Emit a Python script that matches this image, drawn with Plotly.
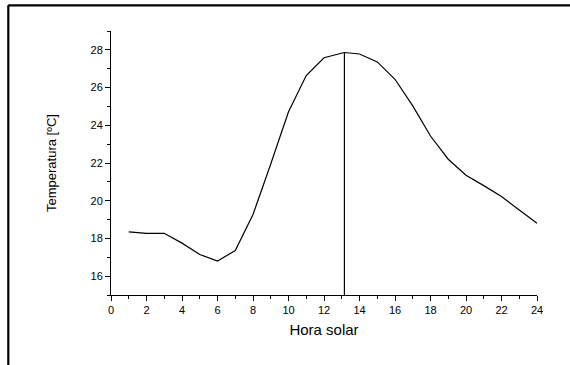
import plotly.graph_objects as go

hours = [1, 2, 3, 4, 5, 6, 7, 8, 9, 10, 11, 12, 13.15, 14, 15, 16, 17, 18, 19, 20, 21, 22, 23, 24]
temps = [18.35, 18.27, 18.27, 17.75, 17.15, 16.8, 17.36, 19.27, 21.95, 24.72, 26.64, 27.58, 27.86,
         27.78, 27.36, 26.44, 25.03, 23.43, 22.2, 21.35, 20.8, 20.22, 19.51, 18.8]
peak_hour = 13.15
peak_temp = 27.86
y_floor = 15

fig = go.Figure()
fig.add_trace(go.Scatter(x=hours, y=temps, mode="lines",
                         line=dict(color="black", width=1.2), showlegend=False))
fig.add_trace(go.Scatter(x=[peak_hour, peak_hour], y=[y_floor, peak_temp], mode="lines",
                         line=dict(color="black", width=1.2), showlegend=False))

W, H = 570, 365
L, R, T, B = 110.7, 33.3, 30.7, 70
pw, ph = W - L - R, H - T - B

def px(x):
    return (x - L) / pw

def py(y):
    return (H - B - y) / ph

fig.add_shape(type="line", xref="paper", yref="paper", x0=px(8), x1=px(600), y0=py(5), y1=py(5),
              line=dict(color="black", width=2.2))
fig.add_shape(type="line", xref="paper", yref="paper", x0=px(8), x1=px(8), y0=py(5), y1=py(400),
              line=dict(color="black", width=2.2))

axis_common = dict(showgrid=False, zeroline=False, showline=True, linecolor="black", linewidth=1,
                   ticks="outside", tickcolor="black", ticklen=5, tickwidth=1,
                   tickfont=dict(family="Liberation Sans, Arial", size=11, color="black"))

fig.update_xaxes(range=[0, 24], dtick=2, tick0=0,
                 minor=dict(dtick=1, ticks="outside", ticklen=3, tickcolor="black"),
                 title=dict(text="Hora solar", font=dict(family="Liberation Sans, Arial", size=15, color="black"),
                            standoff=9),
                 **axis_common)
fig.update_yaxes(range=[15, 29], dtick=2, tick0=16,
                 minor=dict(dtick=1, ticks="outside", ticklen=3, tickcolor="black"),
                 title=dict(text="Temperatura [ºC]", font=dict(family="Liberation Sans, Arial", size=13, color="black"),
                            standoff=30),
                 **axis_common)

fig.update_layout(width=W, height=H, margin=dict(l=L, r=R, t=T, b=B, autoexpand=False),
                  paper_bgcolor="white", plot_bgcolor="white")

fig.write_html("out.html")
